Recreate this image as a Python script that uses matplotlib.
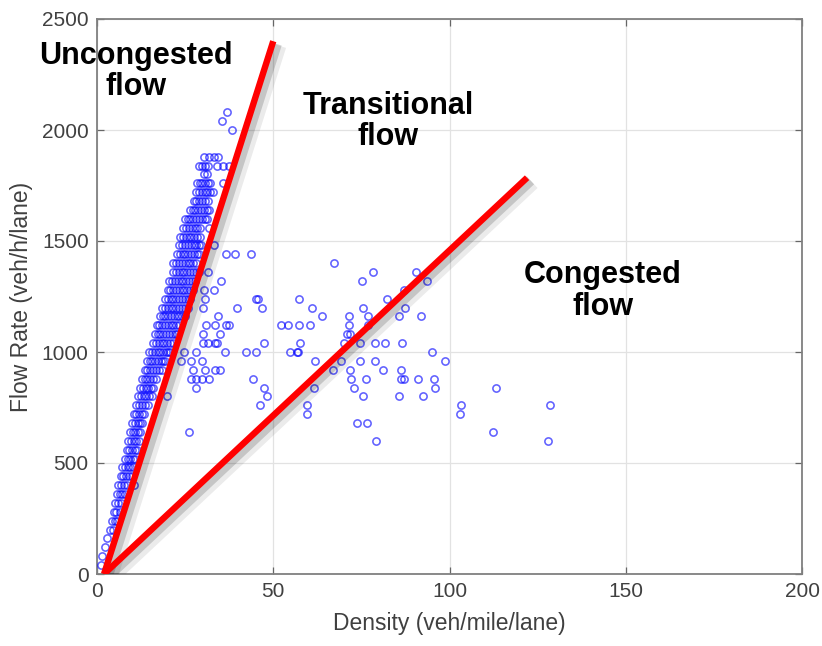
import matplotlib.pyplot as plt
import matplotlib.patheffects as pe

# free-flow band: flow level (veh/h/lane) and the densities observed at that level
band_flow = [40, 80, 120, 160, 200, 240, 280, 320, 360, 400,
             440, 480, 520, 560, 600, 640, 680, 720, 760, 800,
             840, 880, 920, 960, 1000, 1040, 1080, 1120, 1160, 1200,
             1240, 1280, 1320, 1360, 1400, 1440, 1480, 1520, 1560, 1600,
             1640, 1680, 1720, 1760, 1800, 1840, 1880]
band_density = [
    [1.0], [1.4], [2.2], [2.8], [3.6, 4.4],
    [4.3, 5.1, 5.7], [4.7, 5.5, 6.4], [5.1, 5.9, 6.8], [5.6, 6.4, 7.2, 7.9],
    [6.0, 6.8, 7.6, 8.4, 10.5],
    [6.7, 7.5, 8.3, 9.1, 9.9], [7.2, 8.0, 8.8, 9.5, 10.2],
    [7.9, 8.7, 9.5, 10.2, 10.9], [8.4, 9.2, 10.0, 10.7, 11.3],
    [8.9, 9.7, 10.5, 11.2, 11.8], [9.3, 10.1, 10.9, 11.6, 12.2],
    [10.0, 10.8, 11.5, 12.2, 12.9], [10.4, 11.2, 12.0, 12.7, 13.4],
    [11.1, 11.9, 12.7, 13.5, 14.4], [11.6, 12.4, 13.2, 14.0, 14.8, 15.5],
    [12.2, 13.0, 13.8, 14.6, 15.3, 16.0], [12.7, 13.5, 14.3, 15.1, 15.9, 16.8],
    [13.5, 14.3, 15.1, 15.9, 16.7, 17.5, 18.3],
    [14.1, 14.9, 15.7, 16.5, 17.3, 18.1, 18.8, 19.4],
    [14.8, 15.6, 16.4, 17.2, 18.0, 18.8, 19.5, 20.2, 20.8],
    [15.9, 16.7, 17.5, 18.3, 19.1, 19.9, 20.7, 21.5],
    [16.4, 17.2, 18.0, 18.8, 19.6, 20.4, 21.2, 22.0, 22.6],
    [16.9, 17.7, 18.5, 19.3, 20.1, 20.9, 21.7, 22.5, 23.4],
    [17.8, 18.6, 19.4, 20.2, 21.0, 21.8, 22.6, 23.4, 24.2, 24.9],
    [18.5, 19.3, 20.1, 20.9, 21.7, 22.5, 23.3, 24.1, 24.9, 25.7],
    [19.3, 20.1, 20.9, 21.7, 22.5, 23.3, 24.1, 24.9, 25.7, 26.5],
    [20.0, 20.8, 21.6, 22.4, 23.2, 24.0, 24.8, 25.6, 26.4, 27.1],
    [20.5, 21.3, 22.1, 22.9, 23.7, 24.5, 25.3, 26.1, 26.9, 27.8],
    [21.6, 22.4, 23.2, 24.0, 24.8, 25.6, 26.4, 27.2, 28.0, 28.8],
    [21.7, 22.5, 23.3, 24.1, 24.9, 25.7, 26.5, 27.3, 28.1],
    [22.7, 23.5, 24.3, 25.1, 25.9, 26.7, 27.5, 28.3, 28.8],
    [23.4, 24.2, 25.0, 25.8, 26.6, 27.4, 28.2, 29.0, 29.6],
    [23.6, 24.4, 25.2, 26.0, 26.8, 27.6, 28.4, 29.2],
    [24.5, 25.3, 26.1, 26.9, 27.7, 28.5, 29.3],
    [24.9, 25.7, 26.5, 27.3, 28.1, 28.9, 29.7, 30.5, 31.3],
    [26.3, 27.1, 27.9, 28.7, 29.5, 30.3, 31.1, 31.7],
    [27.4, 28.2, 29.0, 29.8, 30.6, 31.4],
    [28.1, 28.9, 29.7, 30.5, 31.3, 32.1, 32.9],
    [28.3, 29.1, 29.9, 30.7, 31.5, 32.1],
    [30.4, 31.2],
    [29.0, 29.8, 30.6, 31.4],
    [30.4, 31.8, 33.1, 34.2],
]

# scattered observations outside the band
scatter_flow = [2080, 2040, 2000, 1840, 1760, 1560, 1480, 1440, 1400, 1360,
                1320, 1280, 1240, 1200, 1160, 1120, 1080, 1040, 1000, 960,
                920, 880, 840, 800, 760, 720, 680, 640, 600]
scatter_density = [
    [36.9], [35.5], [38.4], [34.0, 35.8, 37.5], [35.7], [31.9], [33.2],
    [36.7, 39.1, 43.8], [67.1], [31.5, 78.3, 90.6],
    [35.2, 75.2, 93.6], [30.4, 33.1, 87.0],
    [30.6, 45.2, 45.6, 57.2, 82.3],
    [30.1, 39.8, 46.9, 60.9, 75.4, 87.5],
    [34.2, 63.7, 71.4, 76.8, 85.8, 92.0],
    [30.8, 33.4, 36.7, 37.5, 52.1, 54.2, 57.2, 60.3, 71.4, 76.9],
    [30.2, 34.9, 71.0, 71.8],
    [30.2, 31.6, 33.5, 34.0, 47.3, 57.7, 70.1, 74.7, 79.0, 81.6, 86.6],
    [24.6, 28.2, 36.2, 42.4, 45.2, 54.7, 56.6, 57.0, 95.1],
    [23.7, 26.6, 29.9, 61.8, 69.1, 74.7, 78.9, 98.6],
    [27.2, 30.6, 33.4, 34.8, 66.9, 71.7, 81.1, 86.3],
    [26.7, 28.2, 29.9, 31.7, 44.3, 72.1, 76.2, 86.3, 87.0, 91.0, 95.5],
    [28.2, 47.3, 61.5, 72.9, 95.8, 113.2],
    [19.9, 48.1, 75.4, 85.8, 92.6],
    [46.2, 59.6, 103.3, 128.5],
    [59.6, 103.0],
    [73.7, 76.7],
    [26.1, 112.3],
    [79.2, 128.0],
]

# regime boundary lines (density, flow)
boundary_upper = ([2, 50], [0, 2400])
boundary_lower = ([2, 122], [0, 1785])

regime_labels = ["Uncongested\nflow", "Transitional\nflow", "Congested\nflow"]
regime_pos = [(11.1, 2263), (82.6, 2038), (143.5, 1275)]

plt.rcParams['font.family'] = ['Liberation Sans', 'DejaVu Sans']

# flatten the rows into point lists
xs, ys = [], []
for f, ds in zip(band_flow + scatter_flow, band_density + scatter_density):
    xs += ds
    ys += [f] * len(ds)

fig = plt.figure(figsize=(8.22, 6.46), dpi=100)
ax = fig.add_axes([97 / 822, 1 - 574 / 646, 705 / 822, 555 / 646])

ax.plot(xs, ys, 'o', linestyle='none', markersize=5.2, markerfacecolor='none',
        markeredgecolor=(0.0, 0.0, 1.0, 0.62), markeredgewidth=1.15, zorder=3)

shadow = [pe.SimpleLineShadow(offset=(3.5, -3), shadow_color='black', alpha=0.08, linewidth=12),
          pe.SimpleLineShadow(offset=(2.5, -2), shadow_color='black', alpha=0.16, linewidth=7.5),
          pe.Normal()]
for xline, yline in (boundary_upper, boundary_lower):
    ax.plot(xline, yline, color='red', linewidth=4.6, solid_capstyle='butt',
            path_effects=shadow, zorder=4)

for text, (tx, ty) in zip(regime_labels, regime_pos):
    ax.text(tx, ty, text, ha='center', va='center', fontsize=22, fontweight='bold',
            linespacing=1.05, color='black', zorder=5, clip_on=False)

ax.set_xlim(0, 200)
ax.set_ylim(0, 2500)
ax.set_xticks([0, 50, 100, 150, 200])
ax.set_yticks([0, 500, 1000, 1500, 2000, 2500])
ax.grid(True, color='#e2e2e2', linewidth=0.9)
ax.set_axisbelow(True)
ax.tick_params(direction='in', top=True, right=True, length=5, width=0.9,
               color='#666666', labelsize=15, labelcolor='#404040', pad=6)
for s in ax.spines.values():
    s.set_color('#808080')
    s.set_linewidth(1.3)

ax.set_xlabel('Density (veh/mile/lane)', fontsize=16.5, color='#404040', labelpad=8)
ax.set_ylabel('Flow Rate (veh/h/lane)', fontsize=16.5, color='#404040', labelpad=6)

fig.savefig('out.png', dpi=100)
